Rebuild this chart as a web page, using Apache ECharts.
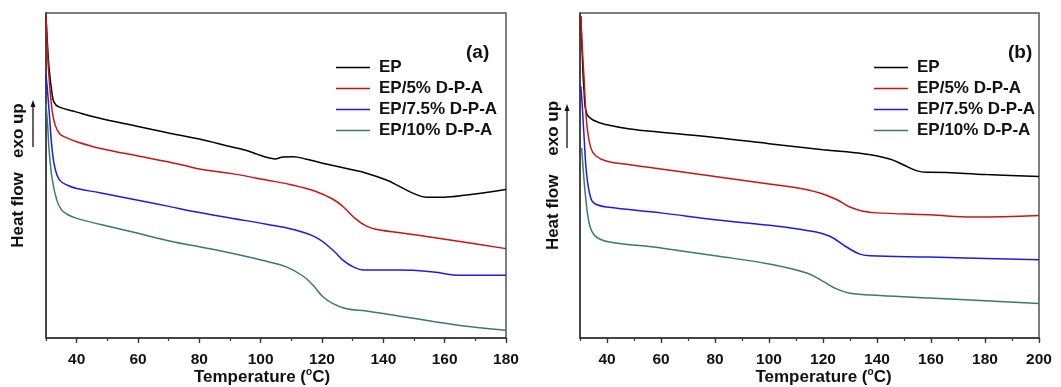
<!DOCTYPE html>
<html><head><meta charset="utf-8">
<script src="https://cdn.jsdelivr.net/npm/echarts@6/dist/echarts.min.js"></script>
<style>html,body{margin:0;padding:0;background:#fff}#c{width:1061px;height:387px}</style>
</head><body><div id="c"></div>
<script>
// Series names and colours
const names = ['EP', 'EP/5% D-P-A', 'EP/7.5% D-P-A', 'EP/10% D-P-A'];
const colors = ['#000000', '#cc1414', '#1c1ce6', '#3a7a6e'];
// X tick labels
const xTicksA = [40, 60, 80, 100, 120, 140, 160, 180];
const xTicksB = [40, 60, 80, 100, 120, 140, 160, 180, 200];

// Panel (a): [temperature, relative heat flow]
const aEP = [[30,99],[30.5,90],[31,83],[32,75],[32.6,72.6],[34,71.2],[40,69.5],[47.5,67.6],[60,65.1],[70,63.1],[80,61.2],[90,58.9],[95.4,57.7],[99,56.5],[101.9,55.6],[104.6,55.1],[107.3,55.7],[110.6,55.8],[115,55],[119.3,54.0],[124,53],[129.1,51.9],[134.5,50.7],[141,48.6],[145.4,46.6],[149.8,44.5],[154.1,43.3],[159.5,43.3],[167.2,44.0],[180,45.7]];
const a5 = [[30,99],[30.5,88],[31,80],[32,70],[33,65.5],[34.5,62.8],[37,61.5],[40,60.4],[47.5,58.4],[60,56.0],[69.3,54.3],[76.9,52.7],[80,52.0],[91,50.5],[101.9,48.6],[110.6,47.0],[118.2,45.0],[123.6,42.7],[126.9,40.4],[130.2,37.3],[134.5,34.4],[138.9,33.2],[145.4,32.4],[156.3,30.9],[167.2,29.4],[180,27.5]];
const a75 = [[30,81],[30.5,76],[31,70],[32,58],[33,52],[34.5,48.5],[37,47],[40,46.0],[47.5,44.7],[60,42.4],[70,40.5],[80,38.6],[91,36.8],[101.9,35.0],[110.6,33.4],[118.2,30.9],[123.6,27.0],[126.9,23.9],[130.2,21.9],[133.4,20.9],[145.4,20.9],[156.3,20.3],[165,19.3],[180,19.3]];
const a10 = [[30,72],[30.5,66],[31,58],[32,49],[33.5,42.5],[35,39.5],[37,38],[40,36.8],[47.5,35.0],[60,32.2],[71.4,29.6],[80,28.1],[91,26.0],[101.9,23.6],[108.4,21.9],[113.9,19.0],[117.1,16.2],[120.4,12.6],[123.6,10.6],[128,9.0],[134.5,8.3],[145.4,6.7],[156.3,5.1],[167.2,3.6],[180,2.4]];

// Panel (b)
const bEP = [[30.3,99],[30.8,88],[31.5,76],[32.5,69],[35,67],[40,65.6],[48.5,64.3],[60,63.3],[80,61.7],[100,59.8],[120,57.9],[134.9,56.7],[144.7,55.1],[149.7,53.3],[154.6,51.5],[158.3,51.0],[160,51.0],[180.5,50.3],[200,49.7]];
const b5 = [[30.3,99],[30.8,90],[31.5,80],[32.5,66],[34,58.5],[35.9,56],[40,54.4],[48.5,53.3],[60,52.0],[80,49.7],[100,47.4],[110.2,46.2],[118.8,44.6],[125,42.6],[129.9,40.3],[134.9,39.0],[139.8,38.5],[159.5,37.9],[175.6,37.2],[200,37.7]];
const b75 = [[30.3,77.5],[30.8,72],[31.5,62],[32.5,50],[34,43],[35.5,41.3],[40,40.3],[60,38.5],[80,36.4],[100,34.7],[114,33.1],[122.5,31.3],[128.7,28.0],[133.6,25.8],[137.3,25.3],[159.5,24.9],[200,24.1]];
const b10 = [[30.6,58.5],[31,54],[32,44],[33.5,35],[35.5,31.5],[40,29.7],[60,27.7],[80,25.3],[100,22.8],[114,20.0],[120,17.4],[125,15.1],[129.9,13.8],[141,13.1],[159.5,12.3],[200,10.6]];

const panelA = [aEP, a5, a75, a10];
const panelB = [bEP, b5, b75, b10];

const FONT = '"Liberation Sans", Arial, sans-serif';
const gridsDef = [
  { left: 46, right: 555, top: 13, bottom: 49 },
  { left: 580, right: 22, top: 13, bottom: 49 }
];

function xAxes(gi, max, ticks, namePad) {
  return [{
    type: 'value', gridIndex: gi, min: 30, max: max, interval: 10,
    name: 'Temperature ({sup|o}C)', nameLocation: 'middle', nameGap: 29, nameMoveOverlap: false,
    nameTextStyle: { fontFamily: FONT, fontWeight: 'bold', fontSize: 17, color: '#111', lineHeight: 20, padding: namePad,
      rich: { sup: { fontFamily: FONT, fontWeight: 'bold', fontSize: 10, color: '#111', verticalAlign: 'top', lineHeight: 12 } } },
    axisLine: { show: true, lineStyle: { color: '#333', width: 1.5 } },
    axisTick: { show: true, length: 5, customValues: ticks, lineStyle: { color: '#333', width: 1.3 } },
    axisLabel: { show: true, customValues: ticks, margin: 14, fontFamily: FONT, fontWeight: 'bold', fontSize: 15.5, color: '#111' },
    splitLine: { show: false }
  }, {
    type: 'value', gridIndex: gi, min: 30, max: max, interval: 10, position: 'bottom',
    axisLine: { show: false },
    axisTick: { show: true, length: 3, lineStyle: { color: '#333', width: 1.2 } },
    axisLabel: { show: false }, splitLine: { show: false }
  }];
}
function yAxis(gi, label, gap) {
  return {
    type: 'value', gridIndex: gi, min: 0, max: 100,
    name: label, nameLocation: 'middle', nameRotate: 90, nameGap: gap, nameMoveOverlap: false,
    nameTextStyle: { fontFamily: FONT, fontWeight: 'bold', fontSize: 17, color: '#111' },
    axisLine: { show: true, lineStyle: { color: '#333', width: 1.5 } },
    axisTick: { show: false }, axisLabel: { show: false }, splitLine: { show: false }
  };
}

const series = [];
[panelA, panelB].forEach((panel, gi) => {
  panel.forEach((d, i) => {
    series.push({
      type: 'line', name: names[i], data: d, xAxisIndex: gi * 2, yAxisIndex: gi,
      smooth: 0.4, symbol: 'none', showSymbol: false,
      lineStyle: { color: colors[i], width: 1.5 }, itemStyle: { color: colors[i] },
      animation: false, z: 3
    });
  });
});

function legend(left) {
  return {
    data: names, orient: 'vertical', left: left, top: 54, padding: 5, itemWidth: 34, itemHeight: 1.5, itemGap: 4,
    icon: 'rect', selectedMode: false,
    textStyle: { fontFamily: FONT, fontWeight: 'bold', fontSize: 17, color: '#111', lineHeight: 16.7, padding: [0, 0, 0, 4] }
  };
}

function arrow(x, y1, y2) {
  return [
    { type: 'line', shape: { x1: x, y1: y2, x2: x, y2: y1 + 5 }, style: { stroke: '#111', lineWidth: 1.3 } },
    { type: 'polygon', shape: { points: [[x, y1], [x - 2.5, y1 + 7], [x + 2.5, y1 + 7]] }, style: { fill: '#111' } }
  ];
}

const option = {
  backgroundColor: '#fff',
  animation: false,
  grid: gridsDef.map(g => Object.assign({ show: true, borderColor: '#555', borderWidth: 1.5, backgroundColor: 'transparent', containLabel: false, outerBoundsMode: 'none' }, g)),
  xAxis: [].concat(xAxes(0, 180, xTicksA, [0, 28, 0, 0]), xAxes(1, 200, xTicksB, [0, 0, 0, 28])),
  yAxis: [yAxis(0, 'Heat flow   exo up', 19), yAxis(1, 'Heat flow    exo up', 18)],
  legend: [legend(331), legend(869)],
  title: [
    { text: '(a)', left: 461, top: 38, textStyle: { fontFamily: FONT, fontWeight: 'bold', fontSize: 19, color: '#111' } },
    { text: '(b)', left: 1003, top: 38, textStyle: { fontFamily: FONT, fontWeight: 'bold', fontSize: 19, color: '#111' } }
  ],
  graphic: [].concat(arrow(33, 100, 147), arrow(567, 104, 148)),
  series: series
};
const chart = echarts.init(document.getElementById('c'), null, { renderer: 'canvas' });
chart.setOption(option);
</script></body></html>
